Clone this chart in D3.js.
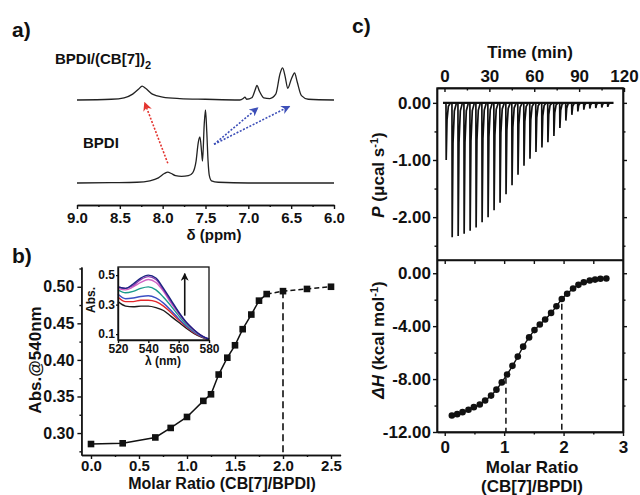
<!DOCTYPE html>
<html>
<head>
<meta charset="utf-8">
<script src="https://cdn.jsdelivr.net/npm/d3@7"></script>
<style>
  body { margin: 0; background: #fff; }
  svg text { font-family: "Liberation Sans", Arial, sans-serif; font-weight: bold; fill: #111; }
</style>
</head>
<body>
<div id="fig"></div>
<script>
// ---- a) 1H NMR, [ppm, intensity]
const nmrFree = [[9.0,0],[8.6,0.005],[8.3,0.01],[8.15,0.03],[8.05,0.07],[7.98,0.13],[7.94,0.15],
  [7.90,0.13],[7.85,0.10],[7.78,0.09],[7.70,0.10],[7.65,0.14],[7.61,0.30],[7.585,0.55],[7.565,0.63],
  [7.545,0.42],[7.535,0.30],[7.515,0.80],[7.50,1.0],[7.485,0.70],[7.47,0.30],[7.455,0.10],[7.43,0.03],
  [7.35,0.01],[7.0,0],[6.0,0]];
const nmrBound = [[9.0,0],[8.6,0.01],[8.45,0.03],[8.35,0.08],[8.28,0.15],[8.24,0.19],[8.20,0.16],
  [8.12,0.08],[8.0,0.04],[7.8,0.02],[7.5,0.01],[7.1,0],[7.06,0.02],[7.04,0.04],[7.02,0.01],[6.96,0.03],
  [6.92,0.14],[6.90,0.20],[6.87,0.12],[6.82,0.03],[6.75,0.02],[6.68,0.08],[6.63,0.36],[6.60,0.44],
  [6.57,0.32],[6.54,0.16],[6.50,0.28],[6.46,0.37],[6.43,0.25],[6.38,0.06],[6.3,0.01],[6.0,0]];
const boundOffset = 1.137;
const ppmTicks = [9.0, 8.5, 8.0, 7.5, 7.0, 6.5, 6.0];

// ---- b) UV titration
const ratioB = [0, 0.33, 0.67, 0.83, 1.0, 1.17, 1.25, 1.33, 1.42, 1.5, 1.58, 1.67, 1.75, 1.83, 2.0, 2.25, 2.5];
const absB = [0.285, 0.286, 0.294, 0.307, 0.322, 0.344, 0.353, 0.380, 0.403, 0.420, 0.442, 0.462, 0.481, 0.490, 0.494, 0.497, 0.500];
const ratioTicksB = [0.0, 0.5, 1.0, 1.5, 2.0, 2.5];
const absTicksB = [0.30, 0.35, 0.40, 0.45, 0.50];

// inset spectra
const lambda = [520, 525, 530, 535, 540, 545, 550, 555, 560, 565, 570, 575, 580];
const specBlack   = [0.32, 0.29, 0.285, 0.29, 0.29, 0.28, 0.26, 0.22, 0.18, 0.14, 0.105, 0.08, 0.063];
const specRed     = [0.35, 0.32, 0.32, 0.33, 0.33, 0.32, 0.29, 0.245, 0.195, 0.15, 0.11, 0.083, 0.065];
const specBlue    = [0.37, 0.34, 0.345, 0.355, 0.36, 0.345, 0.31, 0.26, 0.205, 0.155, 0.115, 0.085, 0.065];
const specTeal    = [0.40, 0.38, 0.39, 0.41, 0.42, 0.40, 0.35, 0.29, 0.225, 0.165, 0.12, 0.088, 0.065];
const specMagenta = [0.41, 0.40, 0.42, 0.45, 0.47, 0.45, 0.39, 0.31, 0.24, 0.175, 0.125, 0.09, 0.065];
const specPurple  = [0.42, 0.41, 0.43, 0.47, 0.49, 0.47, 0.40, 0.32, 0.245, 0.18, 0.13, 0.09, 0.065];
const specNavy    = [0.42, 0.41, 0.44, 0.48, 0.50, 0.48, 0.41, 0.33, 0.25, 0.18, 0.13, 0.09, 0.065];

// ---- c) ITC
const injTime = [1, 5, 9, 13, 17, 21, 25, 29, 33, 37, 41, 45, 49, 53, 57, 61, 65, 69, 73, 77, 81, 85, 89, 93, 97, 101, 105, 109];
const injPower = [-1.0, -2.35, -2.33, -2.29, -2.24, -2.18, -2.09, -2.0, -1.88, -1.75, -1.6, -1.44, -1.26, -1.1,
  -0.98, -0.86, -0.78, -0.69, -0.58, -0.44, -0.31, -0.21, -0.15, -0.12, -0.10, -0.09, -0.08, -0.07];
const ratioC = [0.12, 0.21, 0.30, 0.40, 0.49, 0.59, 0.68, 0.78, 0.87, 0.96, 1.05, 1.14, 1.23, 1.32, 1.42,
  1.51, 1.60, 1.69, 1.79, 1.88, 1.97, 2.06, 2.16, 2.25, 2.34, 2.44, 2.53, 2.62, 2.72];
const dH = [-10.75, -10.65, -10.50, -10.32, -10.12, -9.92, -9.62, -9.25, -8.80, -8.25, -7.65, -7.00, -6.30,
  -5.55, -4.85, -4.30, -3.88, -3.50, -3.00, -2.50, -1.95, -1.55, -1.15, -0.88, -0.68, -0.55, -0.48, -0.42, -0.40];

const svg = d3.select("#fig").append("svg")
  .attr("width", 640)
  .attr("height", 495);

const defs = svg.append("defs");
function marker(id, color, size) {
  defs.append("marker")
    .attr("id", id)
    .attr("viewBox", "0 0 10 10")
    .attr("refX", 9).attr("refY", 5)
    .attr("markerWidth", size).attr("markerHeight", size)
    .attr("markerUnits", "userSpaceOnUse")
    .attr("orient", "auto")
    .append("path")
    .attr("d", "M0,0 L10,5 L0,10 L3,5 Z")
    .attr("fill", color);
}
marker("headRed", "#e3342f", 9);
marker("headBlue", "#3d4fb8", 9);
marker("headBlack", "#111", 8);

function styleAxis(g, fs) {
  g.selectAll("text").style("font-size", fs + "px");
  g.selectAll("line, path").attr("stroke", "#111").attr("stroke-width", 1.4);
}
const f0 = d => d.toFixed(0);
const f1 = d => d.toFixed(1);
const f2 = d => d.toFixed(2);

// ================= a) =================
const xA = d3.scaleLinear().domain([9, 6]).range([77, 334]);
const yA = d3.scaleLinear().domain([0, 1]).range([183, 110]);

const lineA = d3.line()
  .x(d => xA(d[0]))
  .y(d => yA(d[1]))
  .curve(d3.curveMonotoneX);

svg.append("path").attr("d", lineA(nmrFree))
  .attr("fill", "none").attr("stroke", "#222").attr("stroke-width", 1.3);
svg.append("path").attr("d", lineA(nmrBound.map(d => [d[0], d[1] + boundOffset])))
  .attr("fill", "none").attr("stroke", "#222").attr("stroke-width", 1.3);

const axA = svg.append("g").attr("transform", "translate(0,205)")
  .call(d3.axisBottom(xA).tickValues(ppmTicks).tickFormat(f1).tickSize(4).tickPadding(3).tickSizeOuter(0));
styleAxis(axA, 15);
const axAm = svg.append("g").attr("transform", "translate(0,205)")
  .call(d3.axisBottom(xA).tickValues([8.75, 8.25, 7.75, 7.25, 6.75, 6.25]).tickFormat("").tickSize(2).tickSizeOuter(0));
styleAxis(axAm, 15);

svg.append("text").attr("x", 214).attr("y", 240).attr("text-anchor", "middle")
  .style("font-size", "15px").text("δ (ppm)");

svg.append("text").attr("x", 12).attr("y", 37).style("font-size", "21px").text("a)");
const lblBound = svg.append("text").attr("x", 55).attr("y", 64).style("font-size", "15px");
lblBound.append("tspan").text("BPDI/(CB[7])");
lblBound.append("tspan").attr("dy", 5).style("font-size", "11px").text("2");
svg.append("text").attr("x", 83).attr("y", 148).style("font-size", "15px").text("BPDI");

// arrows (red: downfield shift, blue: upfield shifts)
svg.append("line")
  .attr("x1", xA(7.94)).attr("y1", yA(0.27)).attr("x2", xA(8.21)).attr("y2", yA(1.10))
  .attr("stroke", "#e3342f").attr("stroke-width", 1.6).attr("stroke-dasharray", "2,1.6")
  .attr("marker-end", "url(#headRed)");
[[6.89, 1.03], [6.52, 1.05]].forEach(e => {
  svg.append("line")
    .attr("x1", xA(7.40)).attr("y1", yA(0.53)).attr("x2", xA(e[0])).attr("y2", yA(e[1]))
    .attr("stroke", "#3d4fb8").attr("stroke-width", 1.6).attr("stroke-dasharray", "2,1.6")
    .attr("marker-end", "url(#headBlue)");
});

// ================= b) =================
const xB = d3.scaleLinear().domain([-0.1, 2.6]).range([81.4, 340.6]);
const yB = d3.scaleLinear().domain([0.27, 0.527]).range([455, 267]);

svg.append("text").attr("x", 12).attr("y", 263).style("font-size", "21px").text("b)");

const axBx = svg.append("g").attr("transform", "translate(0,455)")
  .call(d3.axisBottom(xB).tickValues(ratioTicksB).tickFormat(f1).tickSize(4).tickPadding(1).tickSizeOuter(0));
styleAxis(axBx, 15);
const axBxm = svg.append("g").attr("transform", "translate(0,455)")
  .call(d3.axisBottom(xB).tickValues([0.25, 0.75, 1.25, 1.75, 2.25]).tickFormat("").tickSize(2).tickSizeOuter(0));
styleAxis(axBxm, 15);
const axBy = svg.append("g").attr("transform", "translate(81.4,0)")
  .call(d3.axisLeft(yB).tickValues(absTicksB).tickFormat(f2).tickSize(4).tickPadding(3).tickSizeOuter(0));
styleAxis(axBy, 16);
const axBym = svg.append("g").attr("transform", "translate(81.4,0)")
  .call(d3.axisLeft(yB).tickValues([0.275, 0.325, 0.375, 0.425, 0.475, 0.525]).tickFormat("").tickSize(2).tickSizeOuter(0));
styleAxis(axBym, 16);

svg.append("text").attr("transform", "translate(41,360) rotate(-90)").attr("text-anchor", "middle")
  .style("font-size", "17px").text("Abs.@540nm");
svg.append("text").attr("x", 222).attr("y", 489).attr("text-anchor", "middle")
  .style("font-size", "16px").text("Molar Ratio (CB[7]/BPDI)");

const ptsB = ratioB.map((r, i) => [r, absB[i]]);
const lineB = d3.line().x(d => xB(d[0])).y(d => yB(d[1]));
svg.append("path").attr("d", lineB(ptsB.slice(0, 14)))
  .attr("fill", "none").attr("stroke", "#111").attr("stroke-width", 1.5);
svg.append("path").attr("d", lineB(ptsB.slice(13)))
  .attr("fill", "none").attr("stroke", "#111").attr("stroke-width", 1.5).attr("stroke-dasharray", "5,3");
svg.append("line")
  .attr("x1", xB(2.0)).attr("x2", xB(2.0)).attr("y1", yB(0.494)).attr("y2", yB(0.27))
  .attr("stroke", "#111").attr("stroke-width", 1.6).attr("stroke-dasharray", "7,4");
svg.selectAll(".sqB").data(ptsB).enter().append("rect")
  .attr("class", "sqB")
  .attr("x", d => xB(d[0]) - 3.3).attr("y", d => yB(d[1]) - 3.3)
  .attr("width", 6.6).attr("height", 6.6).attr("fill", "#111");

// inset
const xI = d3.scaleLinear().domain([520, 580]).range([118, 209]);
const yI = d3.scaleLinear().domain([0.06, 0.555]).range([340, 267]);
const insetSeries = [
  [specBlack, "#1b1b1b"], [specRed, "#e2262b"], [specBlue, "#3c4fc4"], [specTeal, "#1b9b8b"],
  [specMagenta, "#d262c4"], [specPurple, "#8b3bb2"], [specNavy, "#1c2480"]
];
const lineI = d3.line().x((d, i) => xI(lambda[i])).y(d => yI(d)).curve(d3.curveMonotoneX);
insetSeries.forEach(s => {
  svg.append("path").attr("d", lineI(s[0]))
    .attr("fill", "none").attr("stroke", s[1]).attr("stroke-width", 1.4);
});
svg.append("rect").attr("x", 118).attr("y", 267).attr("width", 91).attr("height", 73)
  .attr("fill", "none").attr("stroke", "#111").attr("stroke-width", 1.3);
const axIx = svg.append("g").attr("transform", "translate(0,340)")
  .call(d3.axisBottom(xI).tickValues([520, 540, 560, 580]).tickSize(3).tickPadding(1).tickSizeOuter(0));
styleAxis(axIx, 12);
const axIy = svg.append("g").attr("transform", "translate(118,0)")
  .call(d3.axisLeft(yI).tickValues([0.1, 0.3, 0.5]).tickFormat(f1).tickSize(2).tickPadding(1).tickSizeOuter(0));
styleAxis(axIy, 12);
svg.append("text").attr("transform", "translate(95,300) rotate(-90)").attr("text-anchor", "middle")
  .style("font-size", "12px").text("Abs.");
svg.append("text").attr("x", 163).attr("y", 365).attr("text-anchor", "middle")
  .style("font-size", "12px").text("λ (nm)");
svg.append("line")
  .attr("x1", xI(564)).attr("x2", xI(564)).attr("y1", yI(0.225)).attr("y2", yI(0.51))
  .attr("stroke", "#111").attr("stroke-width", 1.6).attr("marker-end", "url(#headBlack)");

// ================= c) =================
svg.append("text").attr("x", 352).attr("y", 33).style("font-size", "21px").text("c)");

const xT = d3.scaleLinear().domain([-5, 120]).range([437, 624]);
const yP = d3.scaleLinear().domain([-2.75, 0.26]).range([260, 88]);
const xR = d3.scaleLinear().domain([-0.13, 3]).range([437, 623]);
const yH = d3.scaleLinear().domain([-12, 1]).range([432, 260]);

// ITC raw trace
svg.append("line").attr("x1", xT(-1)).attr("x2", xT(113)).attr("y1", yP(0)).attr("y2", yP(0))
  .attr("stroke", "#111").attr("stroke-width", 2.4);
const lineP = d3.line().x(d => xT(d[0])).y(d => yP(d[1]));
injTime.forEach((t, i) => {
  const p = injPower[i];
  svg.append("path")
    .attr("d", lineP([[t, 0], [t + 0.15, p], [t + 0.7, p * 0.3], [t + 1.6, p * 0.06], [t + 3, 0]]))
    .attr("fill", "none").attr("stroke", "#111").attr("stroke-width", 1.7);
});

// frames
svg.append("rect").attr("x", 437).attr("y", 88).attr("width", 186).attr("height", 344)
  .attr("fill", "none").attr("stroke", "#111").attr("stroke-width", 1.4);
svg.append("line").attr("x1", 437).attr("x2", 623).attr("y1", 260).attr("y2", 260)
  .attr("stroke", "#111").attr("stroke-width", 1.4);

const axT = svg.append("g").attr("transform", "translate(0,88)")
  .call(d3.axisTop(xT).tickValues([0, 30, 60, 90, 120]).tickFormat(f0).tickSize(-4).tickPadding(6).tickSizeOuter(0));
styleAxis(axT, 17);
const axTm = svg.append("g").attr("transform", "translate(0,88)")
  .call(d3.axisTop(xT).tickValues([15, 45, 75, 105]).tickFormat("").tickSize(-2.5).tickSizeOuter(0));
styleAxis(axTm, 17);
const axP = svg.append("g").attr("transform", "translate(437,0)")
  .call(d3.axisLeft(yP).tickValues([0, -1, -2]).tickFormat(f2).tickSize(4).tickPadding(2).tickSizeOuter(0));
styleAxis(axP, 17);
const axPm = svg.append("g").attr("transform", "translate(437,0)")
  .call(d3.axisLeft(yP).tickValues([-0.5, -1.5, -2.5]).tickFormat("").tickSize(2.5).tickSizeOuter(0));
styleAxis(axPm, 17);
const axPr = svg.append("g").attr("transform", "translate(623,0)")
  .call(d3.axisRight(yP).tickValues([0, -1, -2]).tickFormat("").tickSize(4).tickSizeOuter(0));
styleAxis(axPr, 17);
const axPrm = svg.append("g").attr("transform", "translate(623,0)")
  .call(d3.axisRight(yP).tickValues([-0.5, -1.5, -2.5]).tickFormat("").tickSize(2.5).tickSizeOuter(0));
styleAxis(axPrm, 17);

svg.append("text").attr("x", 530).attr("y", 58).attr("text-anchor", "middle")
  .style("font-size", "17px").text("Time (min)");
const lblP = svg.append("text").attr("transform", "translate(384,175) rotate(-90)")
  .attr("text-anchor", "middle").style("font-size", "17px");
lblP.append("tspan").style("font-style", "italic").text("P");
lblP.append("tspan").text(" (μcal s");
lblP.append("tspan").attr("dy", -6).style("font-size", "11px").text("-1");
lblP.append("tspan").attr("dy", 6).text(")");

// lower axes
const axR = svg.append("g").attr("transform", "translate(0,432)")
  .call(d3.axisBottom(xR).tickValues([0, 1, 2, 3]).tickFormat(f0).tickSize(4).tickPadding(5).tickSizeOuter(0));
styleAxis(axR, 17);
const axRm = svg.append("g").attr("transform", "translate(0,432)")
  .call(d3.axisBottom(xR).tickValues([0.5, 1.5, 2.5]).tickFormat("").tickSize(2.5).tickSizeOuter(0));
styleAxis(axRm, 17);
const axRt = svg.append("g").attr("transform", "translate(0,260)")
  .call(d3.axisTop(xR).tickValues([0, 0.5, 1, 1.5, 2, 2.5]).tickFormat("").tickSize(-4).tickSizeOuter(0));
styleAxis(axRt, 17);
const axH = svg.append("g").attr("transform", "translate(437,0)")
  .call(d3.axisLeft(yH).tickValues([0, -4, -8, -12]).tickFormat(f2).tickSize(4).tickPadding(2).tickSizeOuter(0));
styleAxis(axH, 17);
const axHm = svg.append("g").attr("transform", "translate(437,0)")
  .call(d3.axisLeft(yH).tickValues([-2, -6, -10]).tickFormat("").tickSize(2.5).tickSizeOuter(0));
styleAxis(axHm, 17);
const axHr = svg.append("g").attr("transform", "translate(623,0)")
  .call(d3.axisRight(yH).tickValues([0, -4, -8]).tickFormat("").tickSize(4).tickSizeOuter(0));
styleAxis(axHr, 17);
const axHrm = svg.append("g").attr("transform", "translate(623,0)")
  .call(d3.axisRight(yH).tickValues([-2, -6, -10]).tickFormat("").tickSize(2.5).tickSizeOuter(0));
styleAxis(axHrm, 17);

const lblH = svg.append("text").attr("transform", "translate(384,340) rotate(-90)")
  .attr("text-anchor", "middle").style("font-size", "17px");
lblH.append("tspan").style("font-style", "italic").text("ΔH");
lblH.append("tspan").text(" (kcal mol");
lblH.append("tspan").attr("dy", -6).style("font-size", "11px").text("-1");
lblH.append("tspan").attr("dy", 6).text(")");
svg.append("text").attr("x", 532).attr("y", 473).attr("text-anchor", "middle")
  .style("font-size", "17px").text("Molar Ratio");
svg.append("text").attr("x", 532).attr("y", 492).attr("text-anchor", "middle")
  .style("font-size", "17px").text("(CB[7]/BPDI)");

// ITC isotherm
const ptsC = ratioC.map((r, i) => [r, dH[i]]);
svg.append("path")
  .attr("d", d3.line().x(d => xR(d[0])).y(d => yH(d[1])).curve(d3.curveMonotoneX)(ptsC))
  .attr("fill", "none").attr("stroke", "#111").attr("stroke-width", 1.4);
[[1.03, -7.9], [1.97, -2.3]].forEach(v => {
  svg.append("line").attr("x1", xR(v[0])).attr("x2", xR(v[0])).attr("y1", yH(v[1])).attr("y2", yH(-12))
    .attr("stroke", "#111").attr("stroke-width", 1.5).attr("stroke-dasharray", "6,4");
});
svg.selectAll(".dotC").data(ptsC).enter().append("circle")
  .attr("class", "dotC")
  .attr("cx", d => xR(d[0])).attr("cy", d => yH(d[1]))
  .attr("r", 3.3).attr("fill", "#111");
</script>
</body>
</html>
